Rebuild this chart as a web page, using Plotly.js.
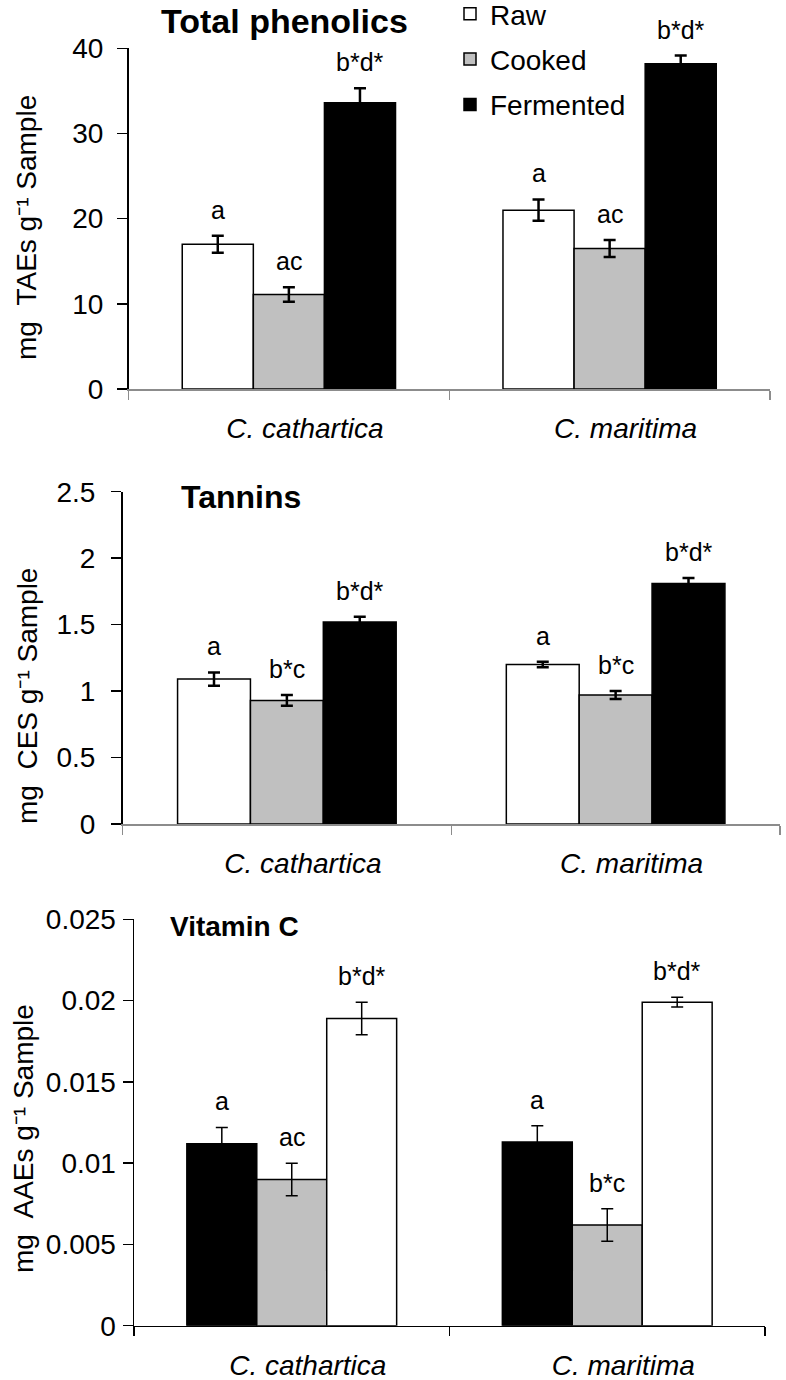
<!DOCTYPE html>
<html><head><meta charset="utf-8">
<script src="https://cdn.plot.ly/plotly-3.0.1.min.js"></script>
<style>html,body{margin:0;padding:0;background:#fff}</style>
</head><body><div id="chart" style="width:786px;height:1380px"></div>
<script>
// ---------- data ----------
const species = ["C. cathartica", "C. maritima"];
const treatments = ["Raw", "Cooked", "Fermented"];

// Total phenolics (mg TAEs g-1 sample)
const phenolicsRaw = [17.0, 21.0];
const phenolicsCooked = [11.1, 16.5];
const phenolicsFermented = [33.6, 38.2];
const phenolicsRawErr = [1.0, 1.25];
const phenolicsCookedErr = [0.85, 1.0];
const phenolicsFermentedErr = [1.7, 0.95];
const phenolicsRawLetters = ["a", "a"];
const phenolicsCookedLetters = ["ac", "ac"];
const phenolicsFermentedLetters = ["b*d*", "b*d*"];

// Tannins (mg CES g-1 sample)
const tanninsRaw = [1.09, 1.20];
const tanninsCooked = [0.93, 0.97];
const tanninsFermented = [1.52, 1.81];
const tanninsRawErr = [0.05, 0.02];
const tanninsCookedErr = [0.04, 0.03];
const tanninsFermentedErr = [0.04, 0.04];
const tanninsRawLetters = ["a", "a"];
const tanninsCookedLetters = ["b*c", "b*c"];
const tanninsFermentedLetters = ["b*d*", "b*d*"];

// Vitamin C (mg AAEs g-1 sample)
const vitCRaw = [0.0112, 0.0113];
const vitCCooked = [0.0090, 0.0062];
const vitCFermented = [0.0189, 0.0199];
const vitCRawErr = [0.001, 0.001];
const vitCCookedErr = [0.001, 0.001];
const vitCFermentedErr = [0.001, 0.0003];
const vitCRawLetters = ["a", "a"];
const vitCCookedLetters = ["ac", "b*c"];
const vitCFermentedLetters = ["b*d*", "b*d*"];

// ---------- layout helpers ----------
const W = 786, H = 1380;
const FONT = "Liberation Sans, Arial, Helvetica, sans-serif";
const bargap = 0.335;
const WHITE = "#ffffff", GREY = "#c0c0c0", BLACK = "#000000";

const panels = [
  { n: 1, box: [128.5, 770, 48.3, 389], range: [0, 40], dtick: 10,
    series: [[phenolicsRaw, phenolicsRawErr, phenolicsRawLetters],
             [phenolicsCooked, phenolicsCookedErr, phenolicsCookedLetters],
             [phenolicsFermented, phenolicsFermentedErr, phenolicsFermentedLetters]],
    colors: [WHITE, GREY, BLACK], legend: true, errW: 2.5, xline: "#8c8c8c", yStandoff: 8,
    title: "Total phenolics", titleSize: 34, titlePos: [284, 21],
    ytitle: "mg\u00a0\u00a0TAEs g\u207b\u00b9 Sample", ytitlePos: [27, 228] },
  { n: 2, box: [122.5, 780, 491.7, 824], range: [0, 2.5], dtick: 0.5,
    series: [[tanninsRaw, tanninsRawErr, tanninsRawLetters],
             [tanninsCooked, tanninsCookedErr, tanninsCookedLetters],
             [tanninsFermented, tanninsFermentedErr, tanninsFermentedLetters]],
    colors: [WHITE, GREY, BLACK], legend: false, errW: 2.5, xline: "#8c8c8c", yStandoff: 10,
    title: "Tannins", titleSize: 32, titlePos: [241, 497],
    ytitle: "mg\u00a0\u00a0CES g\u207b\u00b9 Sample", ytitlePos: [27, 696] },
  { n: 3, box: [134, 765, 919.3, 1325.7], range: [0, 0.025], dtick: 0.005,
    series: [[vitCRaw, vitCRawErr, vitCRawLetters],
             [vitCCooked, vitCCookedErr, vitCCookedLetters],
             [vitCFermented, vitCFermentedErr, vitCFermentedLetters]],
    colors: [BLACK, GREY, WHITE], legend: false, errW: 1.5, xline: "#000000", yStandoff: 1,
    title: "Vitamin C", titleSize: 28, titlePos: [235, 926],
    ytitle: "mg\u00a0\u00a0AAEs g\u207b\u00b9 Sample", ytitlePos: [23, 1139] }
];

const traces = [];
const annotations = [];
const layout = {
  width: W, height: H,
  margin: { l: 0, r: 0, t: 0, b: 0, autoexpand: false },
  paper_bgcolor: "#ffffff", plot_bgcolor: "rgba(0,0,0,0)",
  barmode: "group", bargap: bargap, bargroupgap: 0,
  font: { family: FONT, color: "#000000", size: 28 },
  showlegend: true,
  legend: { x: 450 / W, y: 1 + 11 / H, xanchor: "left", yanchor: "top",
            font: { family: FONT, size: 28, color: "#000" },
            bgcolor: "rgba(0,0,0,0)", traceorder: "grouped", tracegroupgap: 6 },
  annotations: annotations
};

panels.forEach(p => {
  const xa = p.n === 1 ? "x" : "x" + p.n;
  const ya = p.n === 1 ? "y" : "y" + p.n;
  const [x0, x1, yTop, yBot] = p.box;
  layout[p.n === 1 ? "xaxis" : "xaxis" + p.n] = {
    domain: [x0 / W, x1 / W], anchor: ya, type: "category",
    categoryorder: "array", categoryarray: species, range: [-0.5, 1.5],
    showline: true, linecolor: p.xline, linewidth: 1.5,
    ticks: "outside", tickson: "boundaries", ticklen: 9, tickcolor: p.xline, tickwidth: 1.5,
    tickfont: { family: FONT, size: 28, style: "italic", color: "#000" },
    ticklabelshift: 16, ticklabelstandoff: 14, automargin: false,
    showgrid: false, zeroline: false, fixedrange: true
  };
  layout[p.n === 1 ? "yaxis" : "yaxis" + p.n] = {
    domain: [1 - yBot / H, 1 - yTop / H], anchor: xa,
    range: p.range, dtick: p.dtick, tick0: 0,
    showline: true, linecolor: "#000", linewidth: 1.5,
    ticks: "outside", ticklen: 10, tickcolor: "#000", tickwidth: 1.5,
    tickfont: { family: FONT, size: 28, color: "#000" },
    ticklabelstandoff: p.yStandoff, automargin: false,
    showgrid: false, zeroline: false, fixedrange: true
  };
  p.series.forEach((s, i) => {
    const [vals, errs, letters] = s;
    traces.push({
      type: "bar", name: treatments[i], x: species, y: vals,
      xaxis: xa, yaxis: ya,
      marker: { color: p.colors[i], line: { color: "#000", width: 1.5 } },
      error_y: { type: "data", array: errs, visible: true, color: "#000",
                 thickness: p.errW, width: 6 },
      showlegend: p.legend, legendgroup: treatments[i], hoverinfo: "skip"
    });
    vals.forEach((v, c) => {
      annotations.push({
        xref: xa, yref: ya,
        x: c + (i - 1) * (1 - bargap) / 3, y: v + errs[c],
        text: letters[c], showarrow: false,
        yanchor: "middle", yshift: 26,
        font: { family: FONT, size: 25, color: "#000" }
      });
    });
  });
  annotations.push({
    xref: "paper", yref: "paper", x: p.titlePos[0] / W, y: 1 - p.titlePos[1] / H,
    xanchor: "center", yanchor: "middle", showarrow: false,
    text: p.title,
    font: { family: FONT, size: p.titleSize, color: "#000", weight: "bold" }
  });
  annotations.push({
    xref: "paper", yref: "paper", x: p.ytitlePos[0] / W, y: 1 - p.ytitlePos[1] / H,
    xanchor: "center", yanchor: "middle", showarrow: false, textangle: -90,
    text: p.ytitle,
    font: { family: FONT, size: 28, color: "#000" }
  });
});

Plotly.newPlot("chart", traces, layout, { staticPlot: true, displayModeBar: false });
</script>
</body></html>
